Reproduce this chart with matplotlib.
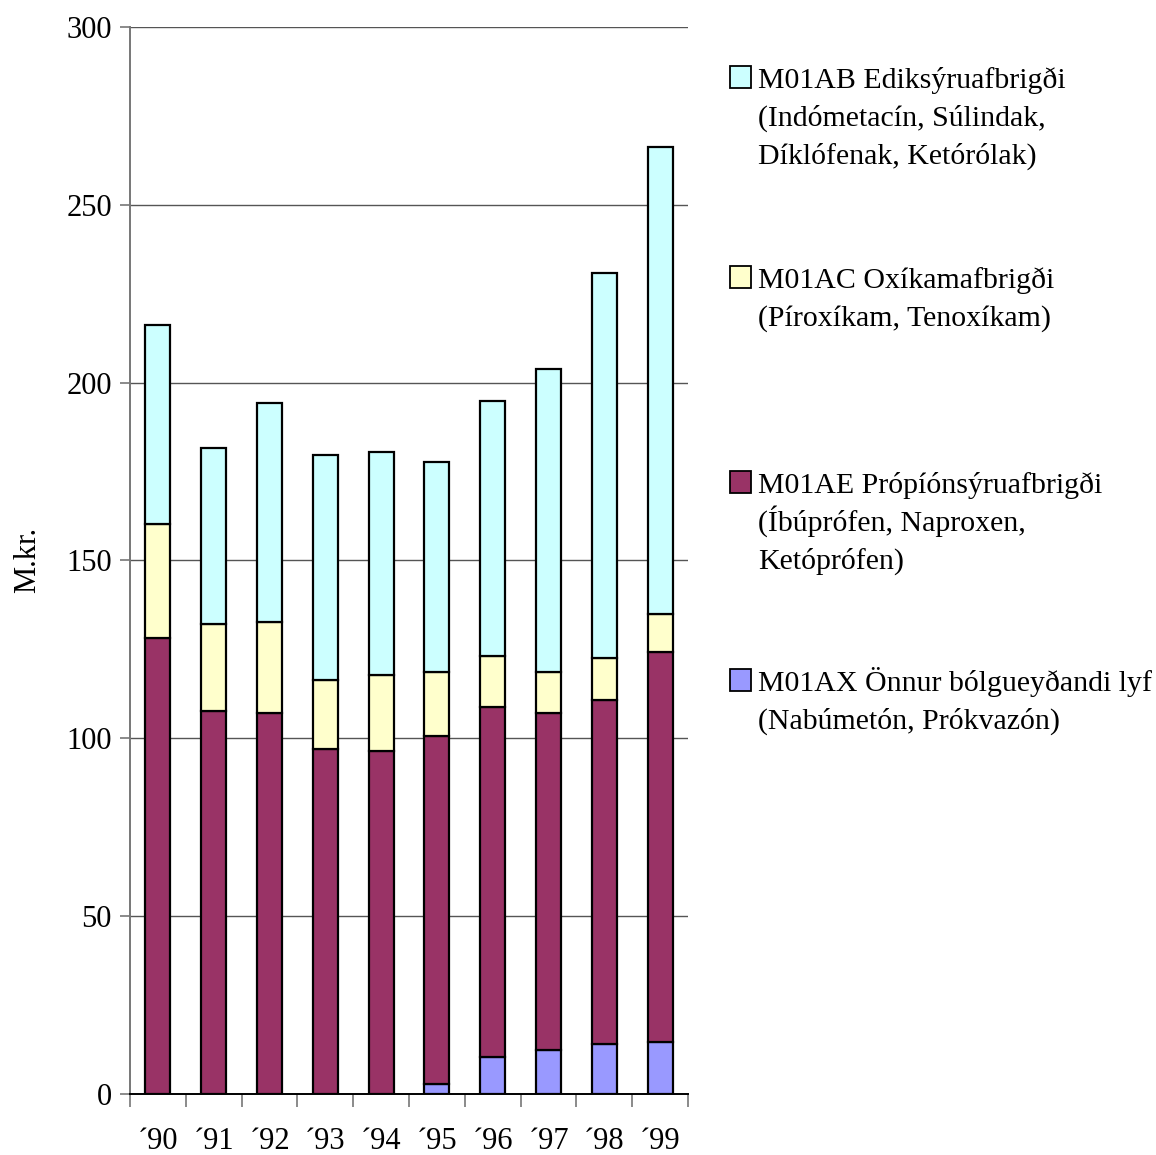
import matplotlib
matplotlib.use("Agg")
from matplotlib import pyplot as plt
from matplotlib.patches import Rectangle
import numpy as np

plt.rcParams['font.family'] = ['Liberation Serif', 'DejaVu Serif']

years = ['´90', '´91', '´92', '´93', '´94', '´95', '´96', '´97', '´98', '´99']

# M.kr. per group, bottom to top
m01ax = [0, 0, 0, 0, 0, 2.7, 10.5, 12.5, 14.0, 14.5]
m01ae = [128.3, 107.6, 107.1, 97.1, 96.4, 98.0, 98.2, 94.5, 96.8, 109.8]
m01ac = [31.9, 24.6, 25.6, 19.4, 21.3, 18.0, 14.4, 11.7, 11.7, 10.7]
m01ab = [56.0, 49.3, 61.7, 63.3, 62.7, 59.0, 71.7, 85.1, 108.2, 131.3]

labels = [
    ['M01AB Ediksýruafbrigði', '(Indómetacín, Súlindak,', 'Díklófenak, Ketórólak)'],
    ['M01AC Oxíkamafbrigði', '(Píroxíkam, Tenoxíkam)'],
    ['M01AE Própíónsýruafbrigði', '(Íbúprófen, Naproxen,', 'Ketóprófen)'],
    ['M01AX Önnur bólgueyðandi lyf', '(Nabúmetón, Prókvazón)'],
]
colors = ['#CCFFFF', '#FFFFCC', '#993366', '#9999FF']

W, H = 1156, 1155
fig = plt.figure(figsize=(W / 100, H / 100), dpi=100)
ax = fig.add_axes([130 / W, 61 / H, 558 / W, 1067 / H])

x = np.arange(len(years))
series = [m01ax, m01ae, m01ac, m01ab]
scol = [colors[3], colors[2], colors[1], colors[0]]
bottom = np.zeros(len(years))
for vals, c in zip(series, scol):
    ax.bar(x, vals, width=0.45, bottom=bottom, color=c, edgecolor='black',
           linewidth=1.6, zorder=3)
    bottom += np.array(vals)

ax.set_xlim(-0.5, len(years) - 0.5)
ax.set_ylim(0, 300)
ax.set_yticks(np.arange(0, 301, 50))
ax.yaxis.grid(True, color='#555555', linewidth=1.0, zorder=0)
ax.set_axisbelow(True)

# category ticks sit between the groups
ax.set_xticks(np.arange(-0.5, len(years), 1.0))
ax.set_xticklabels([])
ax.set_xticks(x, minor=True)
ax.set_xticklabels(years, minor=True)
ax.tick_params(axis='x', which='minor', length=0, pad=24, labelsize=22)
ax.tick_params(axis='x', which='major', length=9, width=1.2, color='#777777',
               direction='out')
ax.tick_params(axis='y', length=7, width=1.2, color='#777777', labelsize=22,
               pad=6)

for s in ['top', 'right']:
    ax.spines[s].set_visible(False)
ax.spines['left'].set_color('#777777')
ax.spines['left'].set_linewidth(1.4)
ax.spines['bottom'].set_color('black')
ax.spines['bottom'].set_linewidth(1.4)

fig.text(28 / W, 1 - 560 / H, 'M.kr.', rotation=90, ha='center',
         va='center', fontsize=22)

# legend drawn by hand to keep the wide gaps (baseline of first line, px)
legend_base = [88, 288, 493, 691]
line_step = 38
for lines, c, lb in zip(labels, colors, legend_base):
    fig.patches.append(Rectangle((730 / W, 1 - lb / H), 21 / W, 22 / H,
                                 facecolor=c, edgecolor='black',
                                 linewidth=1.3, transform=fig.transFigure))
    for i, t in enumerate(lines):
        fig.text(758 / W, 1 - (lb + i * line_step) / H, t, ha='left',
                 va='baseline', fontsize=21.5)

fig.savefig('out.png', dpi=100)
